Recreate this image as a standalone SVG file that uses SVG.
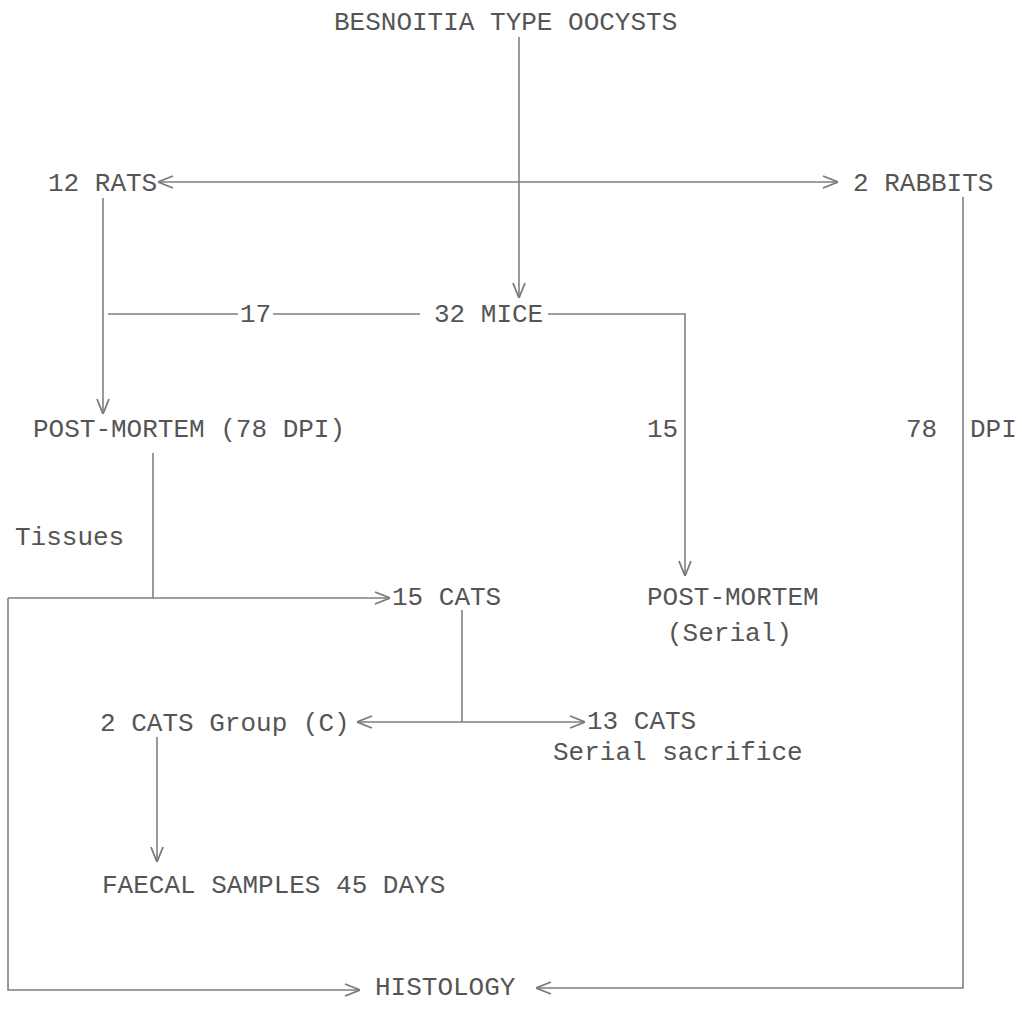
<svg xmlns="http://www.w3.org/2000/svg" width="1022" height="1020" viewBox="0 0 1022 1020">
<defs>
<marker id="ah" viewBox="0 0 16 14" refX="16" refY="7" markerWidth="16" markerHeight="14" markerUnits="userSpaceOnUse" orient="auto">
<path d="M1,1 L16,7 L1,13" fill="none" stroke="#7a7a7a" stroke-width="1.8"/>
</marker>
</defs>
<style>
text{font-family:"Liberation Mono","Courier New",monospace;font-size:26px;fill:#555}
.c{fill:none;stroke:#7f7f7f;stroke-width:1.6}
</style>
<rect width="1022" height="1020" fill="#fff"/>
<g id="connectors">
<path class="c" d="M519,37 V298" marker-end="url(#ah)"/>
<path class="c" d="M519,182 H158" marker-end="url(#ah)"/>
<path class="c" d="M519,182 H838" marker-end="url(#ah)"/>
<path class="c" d="M103,198 V414" marker-end="url(#ah)"/>
<path class="c" d="M108,314 H238 M273,314 H420 M548,314 H685 V576" marker-end="url(#ah)"/>
<path class="c" d="M963,197 V988 H536" marker-end="url(#ah)"/>
<path class="c" d="M153,453 V598"/>
<path class="c" d="M8,598 H390" marker-end="url(#ah)"/>
<path class="c" d="M8,598 V990 H360" marker-end="url(#ah)"/>
<path class="c" d="M462,610 V722"/>
<path class="c" d="M462,722 H357" marker-end="url(#ah)"/>
<path class="c" d="M462,722 H585" marker-end="url(#ah)"/>
<path class="c" d="M157,737 V862" marker-end="url(#ah)"/>
</g>
<g id="oocysts"><text x="334" y="30">BESNOITIA TYPE OOCYSTS</text></g>
<g id="rats"><text x="48" y="191">12 RATS</text></g>
<g id="rabbits"><text x="853" y="191">2 RABBITS</text></g>
<g id="mice"><text x="434" y="322">32 MICE</text></g>
<g id="label17"><text x="240" y="322">17</text></g>
<g id="pm78"><text x="33" y="437">POST-MORTEM (78 DPI)</text></g>
<g id="label15"><text x="647" y="437">15</text></g>
<g id="label78dpi"><text x="906" y="437">78</text><text x="970" y="437">DPI</text></g>
<g id="tissues"><text x="15" y="545">Tissues</text></g>
<g id="cats15"><text x="392" y="605">15 CATS</text></g>
<g id="pmserial"><text x="647" y="605">POST-MORTEM</text><text x="667" y="641">(Serial)</text></g>
<g id="cats2"><text x="100" y="731">2 CATS Group (C)</text></g>
<g id="cats13"><text x="587" y="729">13 CATS</text><text x="553" y="760">Serial sacrifice</text></g>
<g id="faecal"><text x="102" y="893">FAECAL SAMPLES 45 DAYS</text></g>
<g id="histology"><text x="375" y="995">HISTOLOGY</text></g>
</svg>
